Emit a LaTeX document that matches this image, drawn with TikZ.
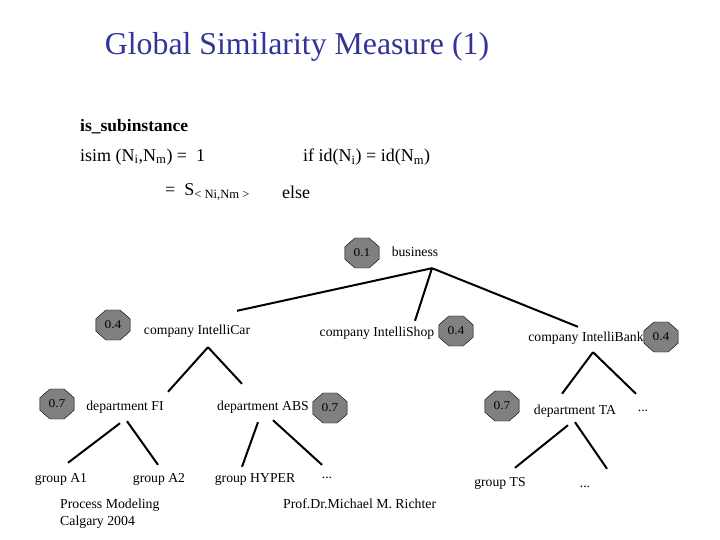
\documentclass[tikz,border=0pt]{standalone}
\usepackage{fontspec}
\setmainfont{Liberation Serif}
\definecolor{gsmBlue}{HTML}{333399}
\definecolor{gsmGray}{HTML}{808080}
\usetikzlibrary{shapes.geometric,positioning}

\begin{document}
\begin{tikzpicture}[x=1pt,y=-1pt,
  lbl/.style={font=\fontsize{13.7}{15}\selectfont,inner sep=1pt,text height=9pt,text depth=3pt},
  wgt/.style={draw=black,fill=gsmGray,regular polygon,regular polygon sides=8,
              minimum size=37pt,inner sep=0pt,font=\fontsize{13.5}{14}\selectfont,yscale=0.88},
  frm/.style={font=\fontsize{18}{20}\selectfont,anchor=west,inner sep=0pt},
  foot/.style={font=\fontsize{13.8}{17}\selectfont,inner sep=0pt,align=left},
  edge/.style={line width=2pt}
]
  \useasboundingbox (0,0) rectangle (720,540);

  % ── Title and formula ─────────────────────────────────────────────────────
  \node[font=\fontsize{31.8}{34}\selectfont,gsmBlue] (title) at (297,47) {Global Similarity Measure (1)};
  \node[frm,font=\fontsize{17.5}{19}\selectfont\bfseries] (rel) at (80,127) {is\_subinstance};
  \node[frm] (isim) at (80,157) {isim (N\textsubscript{i},N\textsubscript{m}) =\ \ 1};
  \node[frm] (cond) at (303,157) {if id(N\textsubscript{i}) = id(N\textsubscript{m})};
  \node[frm] (sim)  at (165,192) {=\ \ S\textsubscript{< Ni,Nm >}};
  \node[frm] (els)  at (282,192) {else};

  % weights
  \node[wgt] (w1)  at (362,253) {0.1};
  \node[wgt] (w4a) at (113,325) {0.4};
  \node[wgt] (w4b) at (456,331) {0.4};
  \node[wgt] (w4c) at (661,337) {0.4};
  \node[wgt] (w7a) at (57,404)  {0.7};
  \node[wgt] (w7b) at (330,408) {0.7};
  \node[wgt] (w7c) at (502,406) {0.7};

  % ── Instance tree ─────────────────────────────────────────────────────────
  \node[lbl] (bus)   at (415,253) {business};
  \node[lbl] (car)   at (197,331) {company IntelliCar};
  \node[lbl] (shop)  at (377,333) {company IntelliShop};
  \node[lbl] (bank)  at (586,338) {company IntelliBank};
  \node[lbl] (fi)    at (125,407) {department FI};
  \node[lbl] (abs)   at (263,407) {department ABS};
  \node[lbl] (ta)    at (575,411) {department TA};
  \node[lbl] (dotsA) at (643,408) {...};
  \node[lbl] (ga1)   at (61,479)  {group A1};
  \node[lbl] (ga2)   at (159,479) {group A2};
  \node[lbl] (hyper) at (255,479) {group HYPER};
  \node[lbl] (dotsB) at (327,475) {...};
  \node[lbl] (gts)   at (500,483) {group TS};
  \node[lbl] (dotsC) at (585,484) {...};

  \coordinate (busfork)  at ([xshift=17pt,yshift=-8pt]bus.south);
  \coordinate (carfork)  at ([xshift=11pt,yshift=-9pt]car.south);
  \coordinate (bankfork) at ([xshift=7pt,yshift=-7pt]bank.south);

  \draw[edge] (busfork) -- ([xshift=40pt,yshift=13pt]car.north);
  \draw[edge] (busfork) -- ([xshift=38pt,yshift=5pt]shop.north);
  \draw[edge] (busfork) -- ([xshift=-8pt,yshift=4pt]bank.north);
  \draw[edge] (carfork) -- ([xshift=43pt,yshift=8pt]fi.north);
  \draw[edge] (carfork) -- ([xshift=-21pt,yshift=16pt]abs.north);
  \draw[edge] (bankfork) -- ([xshift=-13pt,yshift=10pt]ta.north);
  \draw[edge] (bankfork) -- ([xshift=-7pt,yshift=7pt]dotsA.north);
  \draw[edge] ([xshift=-5pt,yshift=-9pt]fi.south) -- ([xshift=7pt,yshift=9pt]ga1.north);
  \draw[edge] ([xshift=2pt,yshift=-7pt]fi.south) -- ([xshift=-1pt,yshift=7pt]ga2.north);
  \draw[edge] ([xshift=-5pt,yshift=-8pt]abs.south) -- ([xshift=-13pt,yshift=5pt]hyper.north);
  \draw[edge] ([xshift=10pt,yshift=-6pt]abs.south) -- ([xshift=-5pt,yshift=3pt]dotsB.north);
  \draw[edge] ([xshift=-7pt,yshift=-7pt]ta.south) -- ([xshift=15pt,yshift=8pt]gts.north);
  \draw[edge] ([xshift=0pt,yshift=-4pt]ta.south) -- ([xshift=22pt,yshift=8pt]dotsC.north);

  % ── Footer ────────────────────────────────────────────────────────────────
  \node[foot,anchor=north west] (course) at (60,499) {Process Modeling\\Calgary 2004};
  \node[foot,anchor=west] (prof) at (283,504) {Prof.Dr.Michael M. Richter};
\end{tikzpicture}
\end{document}
